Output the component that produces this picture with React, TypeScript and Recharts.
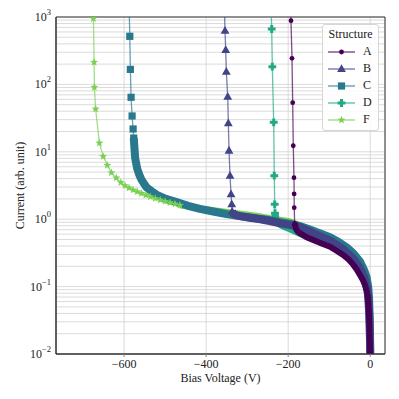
import React from 'react';
import {
  LineChart,
  Line,
  XAxis,
  YAxis,
  CartesianGrid,
  Legend,
  ReferenceArea,
  Label,
} from 'recharts';

const FONT = '"Liberation Serif", serif';

// bias voltage (V), current (arb. unit)
const aTail = [
  [-193.9, 1300], [-193.2, 881], [-190.7, 244], [-189, 53.5], [-187.6, 12.3],
  [-185.9, 4.13], [-185.5, 2.37], [-185.3, 1.48], [-184.2, 0.87],
];
const aBody = [
  [-184.2, 0.87], [-181, 0.72], [-177, 0.66], [-171.5, 0.62], [-155, 0.54],
  [-139, 0.49], [-120, 0.44], [-98, 0.39], [-82, 0.34], [-66, 0.294],
  [-52, 0.25], [-41, 0.21], [-33, 0.18], [-25, 0.149], [-18, 0.125],
  [-13, 0.106], [-9, 0.088], [-6, 0.073], [-3.5, 0.045], [-2.2, 0.028],
  [-1.5, 0.018], [-0.8, 0.013], [0, 0.0095],
];

const bTail = [
  [-355.6, 1500], [-354, 626], [-352.3, 324], [-350.8, 154], [-347.4, 65.7],
  [-345.9, 26.5], [-344.2, 10.4], [-341.8, 4.42], [-339.3, 2.34], [-337.6, 1.66],
  [-336.5, 1.3],
];
const bBody = [
  [-336.5, 1.3], [-333, 1.2], [-325, 1.14], [-317, 1.11], [-293, 1.05],
  [-268, 1.0], [-245, 0.94], [-220, 0.87], [-200, 0.83], [-172, 0.77],
  [-139, 0.62], [-120, 0.55], [-98, 0.48], [-66, 0.36], [-41, 0.26],
  [-25, 0.19], [-13, 0.13], [-7, 0.095], [-4.4, 0.063], [-2.5, 0.04],
  [-1.5, 0.027], [-0.5, 0.015], [0, 0.0095],
];

const cTail = [
  [-588, 1800], [-586.1, 517], [-584.7, 167], [-583, 64.4], [-580.5, 34],
  [-578, 21.8], [-576.5, 16],
];
const cBody = [
  [-576.5, 16], [-573, 8], [-568, 5.6], [-562, 4.4], [-557, 3.8],
  [-546, 3.0], [-533, 2.6], [-520, 2.3], [-500, 2.02], [-472, 1.8],
  [-444, 1.58], [-415, 1.42], [-380, 1.29], [-350, 1.19], [-320, 1.11],
  [-293, 1.06], [-268, 1.01], [-245, 0.97], [-220, 0.9], [-196, 0.86],
  [-172, 0.79], [-147, 0.7], [-120, 0.61], [-98, 0.54], [-75, 0.45],
  [-57, 0.38], [-41, 0.31], [-25, 0.235], [-14, 0.17], [-9, 0.14],
  [-5, 0.1], [-3, 0.071], [-1.2, 0.032], [-0.3, 0.016], [0, 0.0095],
];

const dTail = [
  [-241.9, 1500], [-240.2, 664], [-238.7, 183], [-235.3, 27.4], [-233.9, 4.42],
  [-232.9, 1.66], [-232.2, 1.23],
];
const dBody = [
  [-232.2, 1.23], [-230, 1.0], [-225, 0.9], [-220, 0.84], [-208, 0.77],
  [-196, 0.72], [-172, 0.62], [-147, 0.53], [-120, 0.47], [-98, 0.42],
  [-66, 0.32], [-41, 0.235], [-25, 0.17], [-13, 0.115], [-7, 0.085],
  [-4, 0.055], [-2, 0.03], [-1, 0.018], [0, 0.0095],
];

// F: markers that stay visible, then the stretch that runs under the other bands
const fTail = [
  [-674.8, 944], [-673.1, 213], [-672.4, 90.6], [-669.4, 43.2], [-660.2, 13.5],
  [-651, 8.55], [-641, 6.3], [-631, 4.9], [-619, 4.1], [-608, 3.5],
  [-598, 3.15], [-588, 2.92], [-578, 2.72], [-568, 2.56], [-558, 2.42],
  [-547, 2.28], [-536, 2.15], [-524, 2.03], [-512, 1.93], [-500, 1.84],
  [-488, 1.76], [-476, 1.68], [-464, 1.61],
];
const fBody = [
  [-464, 1.61], [-440, 1.52], [-415, 1.44], [-366, 1.32], [-320, 1.22],
  [-277, 1.13], [-240, 1.03], [-196, 0.93], [-172, 0.82], [-147, 0.72],
  [-120, 0.6], [-98, 0.53], [-66, 0.41], [-41, 0.3], [-25, 0.22],
  [-13, 0.14], [-5, 0.075], [-1.5, 0.03], [0, 0.0095],
];

const xTicks = [-600, -400, -200, 0];
const decades = [-2, -1, 0, 1, 2, 3];
const yTicks = decades.flatMap((e) =>
  e === 3 ? [1000] : [1, 2, 3, 4, 5, 6, 7, 8, 9].map((m) => +(m * Math.pow(10, e)).toPrecision(3))
);

const toPts = (rows: number[][]) => rows.map(([v, i]) => ({ v, i }));

type Kind = 'circle' | 'triangle' | 'square' | 'plus' | 'star';

const series = [
  { name: 'A', color: '#440154', kind: 'circle' as Kind, band: 6 },
  { name: 'B', color: '#414487', kind: 'triangle' as Kind, band: 8 },
  { name: 'C', color: '#2a788e', kind: 'square' as Kind, band: 8 },
  { name: 'D', color: '#22a884', kind: 'plus' as Kind, band: 7 },
  { name: 'F', color: '#7ad151', kind: 'star' as Kind, band: 6 },
];

const bodies: Record<string, number[][]> = { A: aBody, B: bBody, C: cBody, D: dBody, F: fBody };
const tails: Record<string, number[][]> = { A: aTail, B: bTail, C: cTail, D: dTail, F: fTail };

const marker = (kind: Kind, cx: number, cy: number, color: string, key?: string | number) => {
  switch (kind) {
    case 'circle':
      return <circle key={key} cx={cx} cy={cy} r={2.4} fill={color} />;
    case 'triangle':
      return (
        <polygon
          key={key}
          points={`${cx},${cy - 4.8} ${cx - 4.4},${cy + 3} ${cx + 4.4},${cy + 3}`}
          fill={color}
        />
      );
    case 'square':
      return <rect key={key} x={cx - 3.6} y={cy - 3.6} width={7.2} height={7.2} fill={color} />;
    case 'plus': {
      const a = 1.5;
      const b = 3.9;
      return (
        <path
          key={key}
          d={`M${cx - a},${cy - b}H${cx + a}V${cy - a}H${cx + b}V${cy + a}H${cx + a}V${cy + b}H${cx - a}V${cy + a}H${cx - b}V${cy - a}H${cx - a}Z`}
          fill={color}
        />
      );
    }
    default: {
      const pts: string[] = [];
      for (let k = 0; k < 10; k++) {
        const r = k % 2 === 0 ? 4.2 : 1.8;
        const ang = -Math.PI / 2 + (k * Math.PI) / 5;
        pts.push(`${cx + r * Math.cos(ang)},${cy + r * Math.sin(ang)}`);
      }
      return <polygon key={key} points={pts.join(' ')} fill={color} />;
    }
  }
};

const dotFor = (kind: Kind, color: string) => (props: any) =>
  marker(kind, props.cx, props.cy, color, `${kind}-${props.index}`);

const YTick = ({ x, y, payload }: any) => {
  const lg = Math.log10(payload.value);
  const e = Math.round(lg);
  if (Math.abs(lg - e) > 1e-6) return <g />;
  return (
    <text x={x} y={y + 4} textAnchor="end" fontFamily={FONT} fontSize={12} fill="#222">
      10
      <tspan dy={-6} fontSize={8.5}>
        {e < 0 ? `\u2212${-e}` : `${e}`}
      </tspan>
    </text>
  );
};

const YTitle = ({ viewBox }: any) => {
  const cx = 20;
  const cy = viewBox.y + viewBox.height / 2;
  return (
    <text
      x={cx}
      y={cy}
      transform={`rotate(-90, ${cx}, ${cy})`}
      textAnchor="middle"
      dominantBaseline="central"
      fontFamily={FONT}
      fontSize={12}
      fill="#222"
    >
      Current (arb. unit)
    </text>
  );
};

const XTitle = ({ viewBox }: any) => (
  <text
    x={viewBox.x + viewBox.width / 2}
    y={viewBox.y + 28}
    textAnchor="middle"
    fontFamily={FONT}
    fontSize={12}
    fill="#222"
  >
    Bias Voltage (V)
  </text>
);

const LegendBox = () => (
  <div
    style={{
      width: 57,
      height: 107,
      boxSizing: 'border-box',
      border: '1px solid #d6d6d6',
      borderRadius: 3,
      background: 'rgba(255,255,255,0.85)',
      fontFamily: FONT,
      fontSize: 12,
      color: '#222',
    }}
  >
    <div style={{ height: 18, lineHeight: '18px', textAlign: 'center' }}>Structure</div>
    {series.map((s) => (
      <div key={s.name} style={{ display: 'flex', alignItems: 'center', height: 17 }}>
        <svg width={40} height={12} style={{ display: 'block' }}>
          <line x1={5} x2={32} y1={6} y2={6} stroke={s.color} strokeOpacity={0.7} strokeWidth={1.4} />
          {marker(s.kind, 18.5, 6, s.color)}
        </svg>
        <span>{s.name}</span>
      </div>
    ))}
  </div>
);

export default function App() {
  const drawOrder = [...series].reverse();
  return (
    <div style={{ position: 'absolute', left: 0, top: 0, width: 399, height: 399, background: '#fff' }}>
      <LineChart width={399} height={399} margin={{ top: 17, right: 14, bottom: 0, left: 0 }}>
        <CartesianGrid stroke="#d2d2d2" strokeWidth={0.8} />
        <XAxis
          type="number"
          dataKey="v"
          domain={[-766, 36]}
          allowDataOverflow
          ticks={xTicks}
          tickFormatter={(v: number) => (v < 0 ? `\u2212${-v}` : `${v}`)}
          height={45}
          tickSize={3}
          tickMargin={2}
          tickLine={{ stroke: '#888' }}
          axisLine={{ stroke: '#333' }}
          tick={{ fontFamily: FONT, fontSize: 12, fill: '#222' }}
        >
          <Label content={<XTitle />} />
        </XAxis>
        <YAxis
          type="number"
          scale="log"
          domain={[0.01, 1000]}
          allowDataOverflow
          ticks={yTicks}
          interval={0}
          width={56}
          tickSize={0}
          tickMargin={5}
          tickLine={false}
          axisLine={{ stroke: '#333' }}
          tick={<YTick />}
        >
          <Label content={<YTitle />} />
        </YAxis>
        {drawOrder.map((s) => [
          <Line
            key={`${s.name}-body`}
            data={toPts(bodies[s.name])}
            dataKey="i"
            type="linear"
            stroke={s.color}
            strokeWidth={s.band}
            strokeLinejoin="round"
            dot={false}
            activeDot={false}
            isAnimationActive={false}
          />,
          <Line
            key={`${s.name}-tail`}
            data={toPts(tails[s.name])}
            dataKey="i"
            type="linear"
            stroke={s.color}
            strokeOpacity={0.7}
            strokeWidth={1.3}
            dot={dotFor(s.kind, s.color)}
            activeDot={false}
            isAnimationActive={false}
          />,
        ])}
        <ReferenceArea
          x1={-766}
          x2={36}
          y1={0.01}
          y2={1000}
          fill="none"
          stroke="#333"
          strokeWidth={1}
          ifOverflow="visible"
        />
        <Legend
          layout="vertical"
          align="center"
          verticalAlign="middle"
          wrapperStyle={{ left: 322, top: 24, width: 57, height: 107 }}
          content={<LegendBox />}
        />
      </LineChart>
    </div>
  );
}
